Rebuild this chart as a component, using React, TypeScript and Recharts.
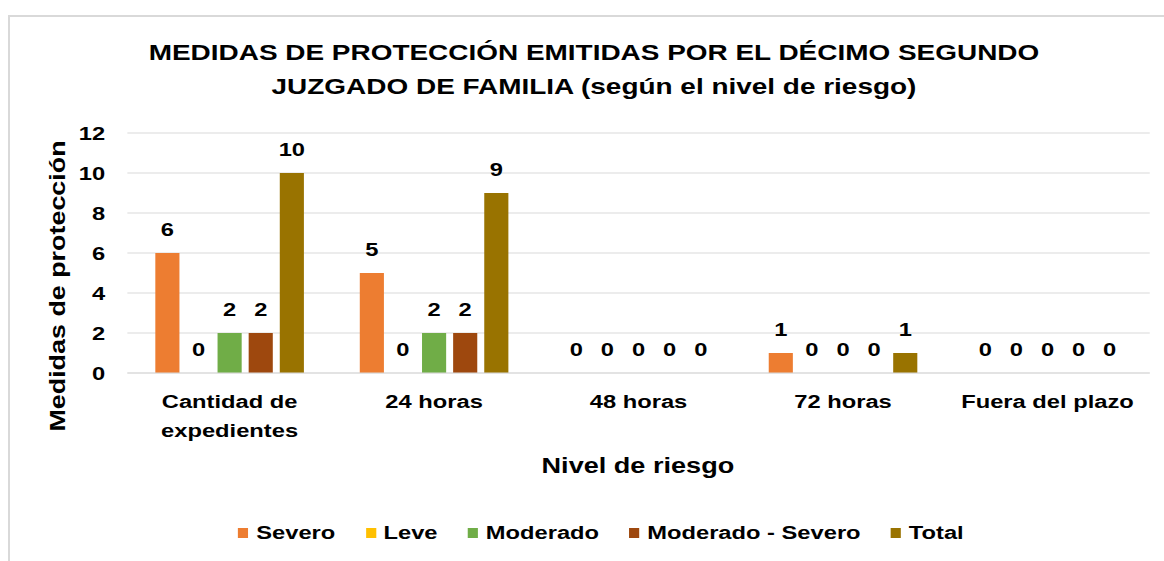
import React from "react";
import { BarChart, Bar, XAxis, YAxis, CartesianGrid, LabelList } from "recharts";

const categories = ["Cantidad de expedientes", "24 horas", "48 horas", "72 horas", "Fuera del plazo"];
const severo = [6, 5, 0, 1, 0];
const leve = [0, 0, 0, 0, 0];
const moderado = [2, 2, 0, 0, 0];
const moderadoSevero = [2, 2, 0, 0, 0];
const total = [10, 9, 0, 1, 0];
const yTicks = [0, 2, 4, 6, 8, 10, 12];

const seriesNames = ["Severo", "Leve", "Moderado", "Moderado - Severo", "Total"];
const seriesKeys = ["severo", "leve", "moderado", "moderadoSevero", "total"];
const seriesColors = ["#ED7D31", "#FFC000", "#70AD47", "#9E480E", "#997300"];

const titleLines = [
  "MEDIDAS DE PROTECCIÓN EMITIDAS POR EL DÉCIMO SEGUNDO",
  "JUZGADO DE FAMILIA (según el nivel de riesgo)",
];
const xTitle = "Nivel de riesgo";
const yTitle = "Medidas de protección";

const data = categories.map((c, i) => ({
  name: c,
  severo: severo[i],
  leve: leve[i],
  moderado: moderado[i],
  moderadoSevero: moderadoSevero[i],
  total: total[i],
}));

const FONT = '"Liberation Sans", Arial, Helvetica, sans-serif';
const SX = 1.27;

function wrap(text: string, max: number): string[] {
  const words = text.split(" ");
  const lines: string[] = [];
  let cur = "";
  for (const w of words) {
    const t = cur ? cur + " " + w : w;
    if (t.length > max && cur) {
      lines.push(cur);
      cur = w;
    } else cur = t;
  }
  if (cur) lines.push(cur);
  return lines;
}

const XTick = (props: any) => {
  const { x, y, payload } = props;
  const lines = wrap(String(payload.value), 15);
  return (
    <text x={x} y={y} textAnchor="middle" fontFamily={FONT} fontWeight="bold" fontSize={18.67} fill="#000">
      {lines.map((l, i) => (
        <tspan key={i} x={x} dy={i === 0 ? 35 : 29}>
          {l}
        </tspan>
      ))}
    </text>
  );
};

const DataLabel = (props: any) => {
  const { x, y, width, value } = props;
  return (
    <text
      x={Number(x) + Number(width) / 2}
      y={Number(y) - 17}
      textAnchor="middle"
      fontFamily={FONT}
      fontWeight="bold"
      fontSize={18.67}
      fill="#000"
    >
      {value}
    </text>
  );
};

export default function App() {
  return (
    <div style={{ position: "fixed", left: 0, top: 0, width: 1164, height: 561, overflow: "hidden", background: "#fff" }}>
      <div
        style={{
          position: "absolute",
          left: 8,
          top: 8,
          width: 1156,
          height: 553,
          overflow: "hidden",
          background: "#fff",
          fontFamily: FONT,
        }}
      >
        <div
          style={{
            position: "absolute",
            left: 0,
            top: 7,
            width: 3000,
            height: 3000,
            borderLeft: "2px solid #d9d9d9",
            borderTop: "2px solid #d9d9d9",
          }}
        />
        <div
          style={{
            position: "absolute",
            left: 0,
            top: 0,
            width: 910,
            height: 545,
            transform: `scaleX(${SX})`,
            transformOrigin: "0 0",
          }}
        >
          <div
            style={{
              position: "absolute",
              left: 0,
              top: 28,
              width: 922.8,
              textAlign: "center",
              fontSize: 22,
              lineHeight: "34px",
              fontWeight: "bold",
              color: "#000",
              whiteSpace: "nowrap",
            }}
          >
            {titleLines.map((l, i) => (
              <div key={i}>{l}</div>
            ))}
          </div>
          <div style={{ position: "absolute", left: 0, top: 0 }}>
            <BarChart
              width={910}
              height={545}
              data={data}
              margin={{ top: 125, right: 11, left: 0, bottom: 120 }}
              barSize={19}
              barGap={5.5}
            >
              <CartesianGrid vertical={false} stroke="#d9d9d9" />
              <XAxis
                dataKey="name"
                height={60}
                tickLine={false}
                tickSize={0}
                tickMargin={0}
                axisLine={{ stroke: "#d9d9d9" }}
                tick={<XTick />}
                interval={0}
              />
              <YAxis
                width={94}
                domain={[0, 12]}
                ticks={yTicks}
                tickLine={false}
                axisLine={false}
                tickSize={0}
                tickMargin={17.5}
                tick={{ fontFamily: FONT, fontWeight: "bold", fontSize: 18.67, fill: "#000" }}
              />
              {seriesKeys.map((k, i) => (
                <Bar
                  key={k}
                  dataKey={k}
                  name={seriesNames[i]}
                  fill={seriesColors[i]}
                  minPointSize={0.01}
                  isAnimationActive={false}
                >
                  <LabelList dataKey={k} content={<DataLabel />} />
                </Bar>
              ))}
            </BarChart>
          </div>
          <div
            style={{
              position: "absolute",
              left: 196,
              top: 443,
              width: 600,
              textAlign: "center",
              fontSize: 21.33,
              lineHeight: "30px",
              fontWeight: "bold",
              color: "#000",
            }}
          >
            {xTitle}
          </div>
          <div
            style={{
              position: "absolute",
              left: 0,
              top: 510,
              width: 934,
              height: 30,
              display: "flex",
              justifyContent: "center",
              alignItems: "center",
              fontSize: 18.67,
              fontWeight: "bold",
              color: "#000",
              whiteSpace: "nowrap",
            }}
          >
            {seriesNames.map((n, i) => (
              <div
                key={n}
                style={{ display: "flex", alignItems: "center", marginRight: i < seriesNames.length - 1 ? 24 : 0 }}
              >
                <span
                  style={{ display: "inline-block", width: 8, height: 10, background: seriesColors[i], marginRight: 6 }}
                />
                <span>{n}</span>
              </div>
            ))}
          </div>
        </div>
        <div
          style={{
            position: "absolute",
            left: -150,
            top: 263,
            width: 400,
            height: 30,
            lineHeight: "30px",
            textAlign: "center",
            fontSize: 21.33,
            fontWeight: "bold",
            color: "#000",
            whiteSpace: "nowrap",
            transform: "rotate(-90deg) scaleX(1.26)",
          }}
        >
          {yTitle}
        </div>
      </div>
    </div>
  );
}
